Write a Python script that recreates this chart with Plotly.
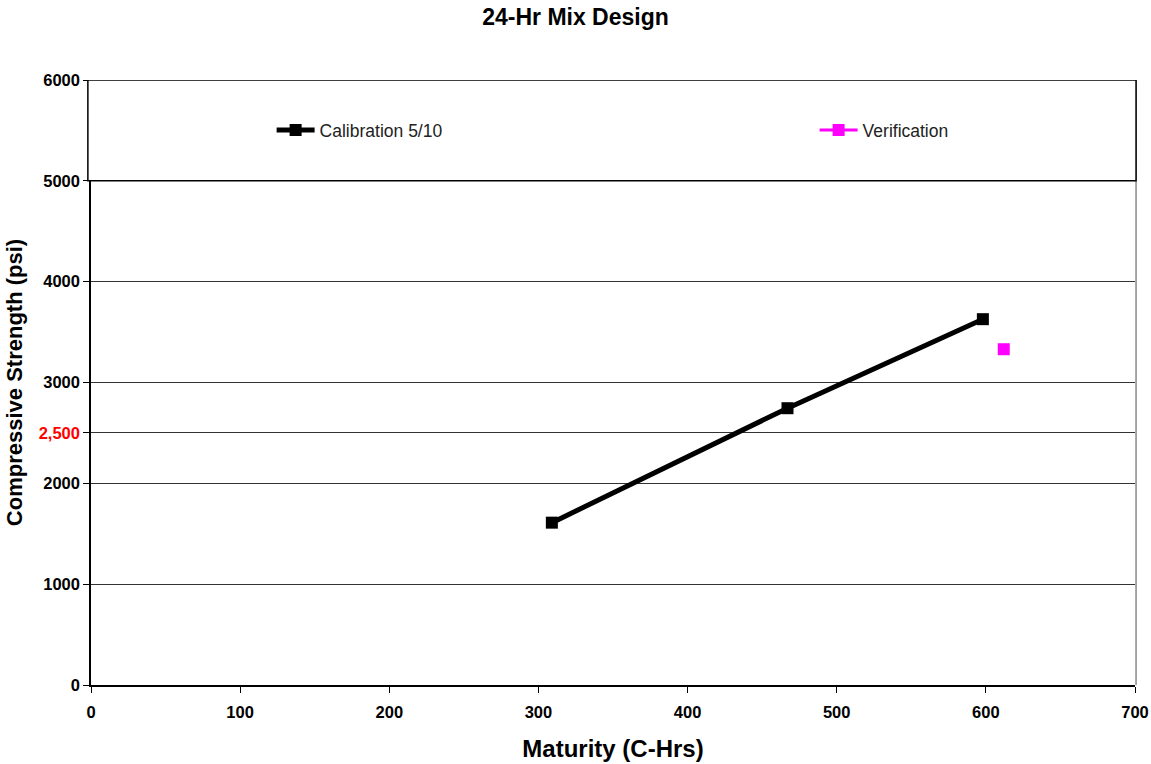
import plotly.graph_objects as go

# Calibration curve (maturity vs compressive strength)
calib_maturity = [309, 467, 598]
calib_strength = [1610, 2745, 3628]

# Verification cylinder
verif_maturity = [612]
verif_strength = [3330]

x_ticks = [0, 100, 200, 300, 400, 500, 600, 700]
y_ticks = [0, 1000, 2000, 2500, 3000, 4000, 5000, 6000]
y_tick_text = ["0", "1000", "2000", "<span style='color:red'>2,500</span>",
               "3000", "4000", "5000", "6000"]

FONT = "Arial, Liberation Sans, sans-serif"

fig = go.Figure()
fig.add_trace(go.Scatter(
    x=calib_maturity, y=calib_strength, mode="lines+markers",
    name="Calibration 5/10", legendwidth=490,
    line=dict(color="black", width=5),
    marker=dict(symbol="square", size=12, color="black"),
))
fig.add_trace(go.Scatter(
    x=verif_maturity, y=verif_strength, mode="lines+markers",
    name="Verification", legendwidth=100,
    line=dict(color="#ff00ff", width=3),
    marker=dict(symbol="square", size=12, color="#ff00ff"),
))

# Legend box across the top band
fig.add_shape(type="rect", xref="paper", yref="y",
              x0=-0.003, x1=1.001, y0=5000, y1=6000,
              fillcolor="white", line=dict(color="black", width=1.5),
              layer="above")

fig.update_layout(
    width=1151, height=764,
    margin=dict(l=91, r=16, t=80, b=79, autoexpand=False),
    paper_bgcolor="white", plot_bgcolor="white",
    font=dict(family=FONT, color="black"),
    title=dict(text="<b>24-Hr Mix Design</b>", x=0.5, xref="container",
               xanchor="center", y=0.978, yanchor="middle",
               font=dict(size=23, family=FONT)),
    showlegend=True,
    legend=dict(orientation="h", x=0.173, y=0.917, xanchor="left",
                yanchor="middle", bgcolor="rgba(0,0,0,0)",
                font=dict(size=17.5, family=FONT, color="#222"),
                itemwidth=38),
)
fig.update_xaxes(
    range=[0, 700], tickvals=x_ticks, ticktext=[f"<b>{v}</b>" for v in x_ticks],
    showgrid=False, zeroline=False, automargin=False,
    showline=True, linecolor="black", linewidth=1.5,
    ticks="outside", ticklen=6, tickcolor="black", ticklabelstandoff=5,
    tickfont=dict(size=16.5, family=FONT),
    title=dict(text="<b>Maturity (C-Hrs)</b>", font=dict(size=24, family=FONT),
               standoff=21),
)
fig.update_yaxes(
    range=[0, 6000], tickvals=y_ticks,
    ticktext=[f"<b>{t}</b>" for t in y_tick_text],
    showgrid=True, gridcolor="#333", gridwidth=1,
    zeroline=False, automargin=False,
    showline=True, linecolor="black", linewidth=1.5, mirror=False,
    ticks="outside", ticklen=6, tickcolor="black",
    tickfont=dict(size=16.5, family=FONT),
    title=dict(text="<b>Compressive Strength (psi)</b>",
               font=dict(size=22, family=FONT), standoff=10),
)
# Right-hand frame of the plot area
fig.add_shape(type="line", xref="paper", yref="paper", x0=1.001, x1=1.001,
              y0=0, y1=1, line=dict(color="#888", width=1.5), layer="below")

fig.write_html("out.html")
